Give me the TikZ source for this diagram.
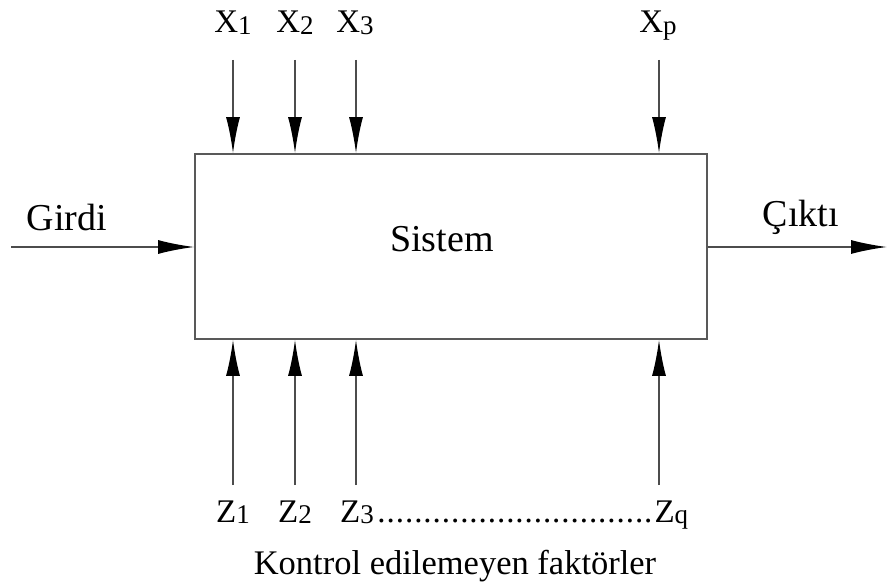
\documentclass[tikz,border=0pt]{standalone}
\usepackage{fontspec}
\setmainfont{Liberation Serif}
\usepackage{tikz}
\usetikzlibrary{arrows.meta, positioning}

\newcommand{\lowidx}[1]{\raisebox{-1.5pt}{\fontsize{27}{27}\selectfont #1}}

\begin{document}
\begin{tikzpicture}[
    x=1pt, y=-1pt,
    sysbox/.style={rectangle, draw=black!65, line width=1.8pt, minimum width=512pt, minimum height=185pt, inner sep=0pt},
    lbl/.style={anchor=base, inner sep=0pt, font=\fontsize{33}{36}\selectfont},
    biglbl/.style={anchor=base, inner sep=0pt, font=\fontsize{38}{42}\selectfont},
    arrow/.style={-{Latex[length=36pt, width=14pt, color=black]}, draw=black!70, line width=1.5pt}
]
\useasboundingbox (0,0) rectangle (887,585);

% system box
\node[sysbox] (sys) at (451,246.5) {};
\node[biglbl] (sistem) at (442,252) {Sistem};

% controllable factors
\node[lbl] (x1) at (233,33) {X\lowidx{1}};
\node[lbl] (x2) at (295,33) {X\lowidx{2}};
\node[lbl] (x3) at (355,33) {X\lowidx{3}};
\node[lbl] (xp) at (658,33) {X\lowidx{p}};
\coordinate (x1s) at (233,60);
\coordinate (x2s) at (295,60);
\coordinate (x3s) at (356,60);
\coordinate (xps) at (659,60);

% uncontrollable factors
\node[lbl] (z1) at (233,522) {Z\lowidx{1}};
\node[lbl] (z2) at (295,522) {Z\lowidx{2}};
\node[lbl, anchor=base west] (z3) at (340,522) {\hbox to 348pt{Z\lowidx{3}\leaders\hbox to 9.2pt{\hss.\hss}\hfill Z\lowidx{q}}};
\node[lbl, font=\fontsize{34.5}{38}\selectfont] (kontrol) at (455,574) {Kontrol edilemeyen faktörler};
\coordinate (z1s) at (233,485);
\coordinate (z2s) at (295,485);
\coordinate (z3s) at (356,485);
\coordinate (zqs) at (659,485);

% input / output
\node[biglbl] (girdi) at (67,231) {Girdi};
\node[biglbl] (cikti) at (801,227) {Çıktı};
\coordinate (ins) at (11,247);
\coordinate (oute) at (887,247);

\draw[arrow] (x1s) -- (x1s |- sys.north);
\draw[arrow] (x2s) -- (x2s |- sys.north);
\draw[arrow] (x3s) -- (x3s |- sys.north);
\draw[arrow] (xps) -- (xps |- sys.north);
\draw[arrow] (z1s) -- (z1s |- sys.south);
\draw[arrow] (z2s) -- (z2s |- sys.south);
\draw[arrow] (z3s) -- (z3s |- sys.south);
\draw[arrow] (zqs) -- (zqs |- sys.south);
\draw[arrow] (ins) -- (ins -| sys.west);
\draw[arrow] (sys.east |- oute) -- (oute);
\end{tikzpicture}
\end{document}
